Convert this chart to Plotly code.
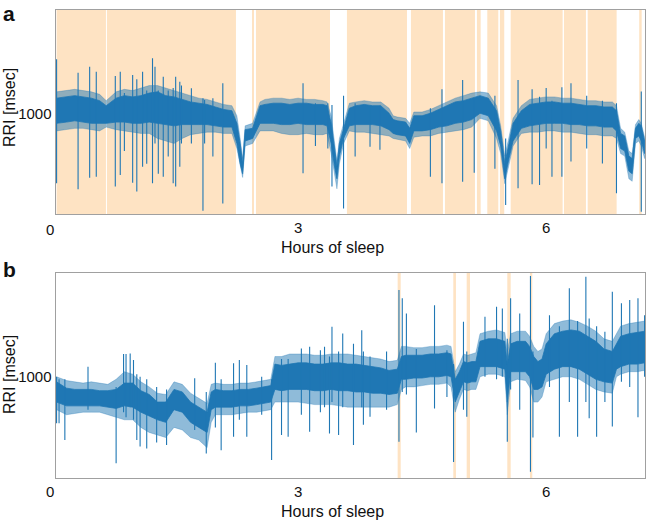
import plotly.graph_objects as go

# ---------------- Panel a data (hours, RRI msec) ----------------
a_t = [0.08, 0.2, 0.3, 0.4, 0.5, 0.6, 0.68, 0.8, 0.9, 1.0, 1.1, 1.2, 1.3, 1.4, 1.5, 1.6, 1.7, 1.8,
       1.9, 2.0, 2.1, 2.2, 2.26, 2.30, 2.33, 2.36, 2.45, 2.54, 2.6, 2.7, 2.8, 2.9, 3.0, 3.1, 3.2,
       3.3, 3.35, 3.40, 3.44, 3.47, 3.50, 3.55, 3.62, 3.7, 3.8, 3.9, 4.0, 4.1, 4.15, 4.2, 4.3,
       4.35, 4.4, 4.5, 4.6, 4.7, 4.8, 4.9, 5.0, 5.1, 5.2, 5.3, 5.4, 5.45, 5.5, 5.55, 5.6, 5.7,
       5.8, 5.9, 6.0, 6.1, 6.2, 6.3, 6.4, 6.5, 6.6, 6.7, 6.8, 6.85, 6.9, 6.95, 7.0, 7.04, 7.08,
       7.12, 7.15, 7.19]
a_core_hi = [1060, 1065, 1070, 1065, 1060, 1050, 1030, 1060, 1070, 1065, 1070, 1080, 1085, 1070,
             1065, 1055, 1045, 1040, 1035, 1025, 1015, 1010, 960, 880, 800, 935, 940, 1030, 1035,
             1040, 1040, 1035, 1040, 1040, 1035, 1035, 1030, 960, 850, 790, 880, 940, 1020, 1030,
             1035, 1030, 1030, 1000, 975, 970, 965, 940, 990, 990, 1000, 1015, 1030, 1045, 1050,
             1060, 1070, 1060, 1010, 930, 800, 880, 960, 1010, 1035, 1040, 1045, 1045, 1040, 1040,
             1035, 1030, 1030, 1025, 1025, 1010, 920, 910, 830, 820, 940, 960, 950, 890]
a_core_lo = [960, 965, 970, 965, 960, 960, 960, 965, 965, 960, 960, 965, 960, 955, 950, 955, 955,
             955, 955, 950, 945, 945, 880, 800, 760, 890, 900, 960, 960, 960, 955, 955, 960, 955,
             955, 955, 950, 880, 790, 740, 830, 900, 950, 955, 955, 955, 950, 935, 920, 915, 910,
             880, 930, 930, 935, 945, 950, 960, 965, 975, 1000, 990, 930, 870, 740, 820, 890, 940,
             950, 955, 960, 960, 960, 955, 955, 950, 950, 945, 945, 930, 860, 850, 770, 760, 900,
             910, 890, 840]
a_fr_hi = [1085, 1090, 1095, 1090, 1085, 1075, 1050, 1085, 1095, 1090, 1100, 1110, 1110, 1100,
           1090, 1080, 1070, 1060, 1055, 1045, 1035, 1030, 990, 900, 820, 950, 960, 1045, 1055,
           1060, 1060, 1055, 1060, 1055, 1055, 1050, 1045, 990, 880, 810, 900, 955, 1040, 1045,
           1050, 1045, 1045, 1020, 990, 985, 980, 960, 1005, 1005, 1015, 1030, 1045, 1060, 1070,
           1080, 1085, 1080, 1030, 950, 830, 900, 980, 1030, 1055, 1060, 1065, 1065, 1060, 1060,
           1055, 1050, 1050, 1045, 1045, 1030, 940, 925, 850, 840, 955, 975, 960, 905]
a_fr_lo = [930, 935, 940, 940, 935, 930, 945, 935, 930, 925, 920, 920, 900, 890, 880, 900, 915,
           920, 925, 925, 920, 920, 860, 790, 745, 870, 880, 930, 930, 930, 920, 915, 915, 920,
           915, 915, 920, 840, 760, 700, 800, 880, 930, 925, 925, 920, 915, 910, 900, 895, 890,
           860, 905, 910, 910, 920, 925, 930, 935, 945, 980, 970, 900, 840, 720, 800, 870, 920,
           925, 925, 930, 930, 925, 925, 920, 915, 915, 910, 910, 900, 840, 830, 740, 730, 880,
           890, 870, 820]
# isolated beats (hour, top, bottom)
a_sp_t = [0.08, 0.34, 0.48, 0.56, 0.79, 0.85, 0.90, 1.00, 1.05, 1.12, 1.17, 1.24, 1.27, 1.31,
          1.37, 1.43, 1.49, 1.52, 1.57, 1.59, 1.71, 1.85, 1.87, 1.97, 2.09, 3.06, 3.21, 3.36,
          3.41, 3.55, 3.69, 3.87, 3.99, 4.60, 4.74, 4.99, 5.13, 5.38, 5.51, 5.66, 5.83, 5.92,
          6.00, 6.07, 6.19, 6.30, 6.49, 6.68, 6.85, 7.15]
a_sp_hi = [1214, 1161, 1185, 1165, 1148, 1165, 1080, 1152, 1135, 1165, 1090, 1218, 1185, 1090,
           1145, 1090, 1100, 1145, 1125, 1110, 1099, 1060, 1053, 1060, 1119, 1119, 1040, 1040,
           1033, 1070, 1040, 1030, 1030, 1020, 1095, 1132, 1060, 1070, 900, 1132, 1095, 1066,
           1100, 1050, 1103, 1119, 1070, 1050, 1040, 1086]
a_sp_lo = [722, 698, 744, 748, 709, 755, 850, 724, 689, 788, 800, 722, 880, 760, 748, 828, 722,
           709, 788, 880, 880, 613, 880, 828, 642, 762, 870, 860, 709, 622, 828, 867, 855, 748,
           722, 728, 764, 780, 636, 702, 718, 715, 860, 748, 748, 808, 860, 801, 682, 609]
# sleep-stage shading intervals (hours)
a_band_start = [0.08, 0.689, 2.443, 2.491, 3.591, 4.365, 4.776, 5.163, 5.288, 5.441, 5.571, 6.215,
                6.502, 7.125]
a_band_end = [0.677, 2.249, 2.467, 3.386, 4.317, 4.752, 5.139, 5.208, 5.421, 5.493, 6.199, 6.481,
              6.852, 7.155]

# ---------------- Panel b data ----------------
b_t = [0.08, 0.2, 0.3, 0.4, 0.5, 0.6, 0.7, 0.8, 0.9, 1.0, 1.1, 1.2, 1.3, 1.4, 1.5, 1.6, 1.7, 1.8,
       1.9, 1.95, 2.0, 2.1, 2.2, 2.3, 2.4, 2.5, 2.6, 2.67, 2.72, 2.8, 2.9, 3.0, 3.1, 3.2, 3.3,
       3.4, 3.5, 3.6, 3.7, 3.8, 3.9, 4.0, 4.1, 4.2, 4.25, 4.3, 4.4, 4.5, 4.6, 4.7, 4.8, 4.85,
       4.9, 4.95, 5.0, 5.05, 5.1, 5.15, 5.2, 5.3, 5.4, 5.5, 5.53, 5.57, 5.65, 5.75, 5.8, 5.85,
       5.9, 5.95, 6.0, 6.1, 6.2, 6.3, 6.4, 6.5, 6.6, 6.7, 6.8, 6.85, 6.9, 7.0, 7.1, 7.19]
b_core_hi = [980, 955, 950, 950, 950, 945, 945, 950, 975, 975, 945, 930, 900, 900, 950, 940, 900,
             880, 860, 940, 950, 945, 945, 950, 950, 955, 960, 965, 1050, 1045, 1050, 1055, 1055,
             1050, 1050, 1055, 1055, 1050, 1050, 1045, 1040, 1035, 1025, 1030, 1080, 1085, 1085,
             1085, 1090, 1090, 1095, 1090, 990, 1020, 1060, 1055, 1060, 1060, 1140, 1150, 1150,
             1140, 1050, 1130, 1140, 1140, 1120, 1080, 1060, 1070, 1130, 1170, 1180, 1185, 1180,
             1160, 1140, 1110, 1100, 1130, 1160, 1170, 1175, 1180]
b_core_lo = [900, 885, 885, 885, 885, 885, 880, 875, 885, 880, 860, 845, 830, 820, 870, 860, 820,
             800, 780, 870, 880, 880, 880, 885, 885, 890, 895, 900, 950, 945, 950, 950, 950, 945,
             945, 950, 945, 945, 940, 940, 935, 935, 930, 935, 990, 990, 995, 995, 1000, 1000,
             1005, 1000, 900, 940, 980, 975, 980, 980, 1040, 1040, 1040, 1030, 900, 1020, 1020,
             1020, 1000, 950, 950, 960, 1010, 1030, 1040, 1040, 1030, 1010, 990, 980, 975, 1030,
             1040, 1050, 1050, 1055]
b_fr_hi = [1000, 985, 980, 975, 980, 975, 970, 990, 1020, 1010, 980, 960, 935, 930, 980, 970, 935,
           915, 895, 970, 975, 970, 970, 975, 975, 980, 985, 990, 1080, 1080, 1090, 1090, 1090,
           1085, 1085, 1090, 1090, 1090, 1085, 1080, 1075, 1070, 1060, 1065, 1120, 1120, 1115,
           1115, 1120, 1120, 1125, 1120, 1020, 1050, 1090, 1085, 1090, 1095, 1170, 1180, 1185,
           1175, 1100, 1170, 1180, 1180, 1160, 1120, 1100, 1110, 1170, 1210, 1220, 1225, 1215,
           1200, 1180, 1150, 1140, 1170, 1200, 1210, 1215, 1220]
b_fr_lo = [870, 850, 855, 860, 860, 860, 850, 840, 830, 830, 800, 780, 770, 760, 800, 790, 760,
           750, 720, 820, 850, 850, 850, 855, 860, 860, 865, 870, 900, 900, 900, 900, 895, 890,
           890, 890, 885, 880, 880, 880, 880, 880, 880, 890, 950, 960, 960, 965, 970, 970, 975,
           960, 860, 910, 950, 945, 950, 950, 1000, 1010, 1010, 1000, 850, 980, 990, 985, 960,
           900, 900, 920, 980, 990, 1000, 1000, 990, 970, 950, 940, 935, 1000, 1010, 1020, 1020,
           1025]
b_sp_t = [0.08, 0.11, 0.18, 0.46, 0.80, 0.89, 0.92, 0.97, 1.01, 1.05, 1.09, 1.17, 1.29, 1.41,
          1.75, 1.89, 2.00, 2.07, 2.22, 2.29, 2.38, 2.56, 2.68, 2.80, 2.88, 3.04, 3.14, 3.27,
          3.32, 3.38, 3.41, 3.49, 3.54, 3.67, 3.77, 3.79, 3.87, 4.07, 4.22, 4.26, 4.31, 4.43,
          4.65, 4.80, 4.88, 5.00, 5.04, 5.26, 5.40, 5.47, 5.53, 5.57, 5.68, 5.81, 5.84, 6.04,
          6.16, 6.28, 6.38, 6.48, 6.52, 6.61, 6.71, 6.80, 6.91, 7.01, 7.11, 7.19]
b_sp_hi = [1000, 990, 990, 1040, 960, 1090, 1090, 1092, 1066, 1010, 1000, 990, 960, 950, 994,
           940, 1055, 990, 1053, 1066, 1046, 1000, 990, 1070, 1070, 1112, 1119, 1105, 1119, 1080,
           1198, 1100, 1171, 1130, 1184, 1100, 1080, 1100, 1343, 1310, 1250, 1110, 1283, 1105,
           1050, 1217, 1100, 1237, 1277, 1270, 1150, 1310, 1250, 1398, 1100, 1243, 1200, 1350,
           1220, 1395, 1230, 1200, 1178, 1336, 1290, 1303, 1310, 1243]
b_sp_lo = [816, 816, 750, 870, 658, 860, 840, 880, 830, 750, 724, 717, 740, 730, 790, 697, 800,
           710, 763, 830, 763, 850, 671, 770, 763, 850, 783, 860, 880, 776, 900, 770, 880, 730,
           880, 810, 842, 870, 743, 940, 930, 780, 875, 920, 663, 870, 842, 1000, 990, 1000, 743,
           950, 870, 625, 760, 960, 763, 900, 763, 900, 836, 763, 900, 803, 980, 960, 840, 1000]
b_band_start = [4.204, 4.877, 5.039, 5.530, 5.804]
b_band_end = [4.241, 4.909, 5.079, 5.571, 5.832]

x_ticks = [3, 6]
y_ticks = [1000]
x_range = [0.067, 7.195]
y_range = [600, 1410]

BLUE = "#1f77b4"
SHADE = "#FEE3C3"
FONT = "Liberation Sans, Arial, Helvetica, sans-serif"
TXT = "#111111"

fig = go.Figure()


def add_panel(t, chi, clo, fhi, flo, st, shi, slo, xa, ya):
    fig.add_trace(go.Scatter(x=t + t[::-1], y=fhi + flo[::-1], fill="toself", mode="lines",
                             line=dict(width=0.6, color="rgba(31,119,180,0.5)"),
                             fillcolor="rgba(31,119,180,0.5)", xaxis=xa, yaxis=ya,
                             hoverinfo="skip", showlegend=False))
    fig.add_trace(go.Scatter(x=t + t[::-1], y=chi + clo[::-1], fill="toself", mode="lines",
                             line=dict(width=0.8, color=BLUE), fillcolor=BLUE,
                             xaxis=xa, yaxis=ya, hoverinfo="skip", showlegend=False))
    xs, ys = [], []
    for tt, hi, lo in zip(st, shi, slo):
        xs += [tt, tt, None]
        ys += [hi, lo, None]
    fig.add_trace(go.Scatter(x=xs, y=ys, mode="lines", line=dict(width=1.1, color=BLUE),
                             xaxis=xa, yaxis=ya, showlegend=False, hoverinfo="skip"))


add_panel(a_t, a_core_hi, a_core_lo, a_fr_hi, a_fr_lo, a_sp_t, a_sp_hi, a_sp_lo, "x", "y")
add_panel(b_t, b_core_hi, b_core_lo, b_fr_hi, b_fr_lo, b_sp_t, b_sp_hi, b_sp_lo, "x2", "y2")

shapes = []
for s, e in zip(a_band_start, a_band_end):
    shapes.append(dict(type="rect", xref="x", yref="y domain", x0=s, x1=e, y0=0, y1=1,
                       fillcolor=SHADE, line=dict(width=0), layer="below"))
for s, e in zip(b_band_start, b_band_end):
    shapes.append(dict(type="rect", xref="x2", yref="y2 domain", x0=s, x1=e, y0=0, y1=1,
                       fillcolor=SHADE, line=dict(width=0), layer="below"))

W, H = 648, 520
xdom = [55.5 / W, 645 / W]
ax_common = dict(showline=True, linecolor="#a0a0a0", linewidth=1, mirror=True, showgrid=False,
                 zeroline=False, ticks="", tickfont=dict(size=15, color=TXT), automargin=False)


def px_x(p):
    return p / W


def px_y(p):
    return (H - p) / H


def ann(text, x, y, size=15, angle=0, bold=False, xanchor="center", yanchor="middle"):
    return dict(text=("<b>%s</b>" % text) if bold else text, x=px_x(x), y=px_y(y), xref="paper",
                yref="paper", xanchor=xanchor, yanchor=yanchor, showarrow=False,
                textangle=angle, font=dict(size=size, color=TXT, family=FONT))


fig.update_layout(
    width=W, height=H, margin=dict(l=0, r=0, t=0, b=0),
    paper_bgcolor="white", plot_bgcolor="white", font=dict(family=FONT, color=TXT),
    shapes=shapes,
    xaxis=dict(domain=xdom, range=x_range, tickvals=x_ticks, anchor="y", **ax_common),
    yaxis=dict(domain=[px_y(214), px_y(10)], range=y_range, tickvals=y_ticks, anchor="x",
               **ax_common),
    xaxis2=dict(domain=xdom, range=x_range, tickvals=x_ticks, anchor="y2", **ax_common),
    yaxis2=dict(domain=[px_y(478), px_y(273)], range=y_range, tickvals=y_ticks, anchor="x2",
                **ax_common),
    annotations=[
        ann("0", 50, 229),
        ann("0", 50, 491),
        ann("Hours of sleep", 333, 248, size=16),
        ann("Hours of sleep", 333, 511, size=16),
        ann("RRI [msec]", 9, 108, size=16, angle=-90),
        ann("RRI [msec]", 9, 375, size=16, angle=-90),
        ann("a", 1, 0, size=21, bold=True, xanchor="left", yanchor="top"),
        ann("b", 1, 270, size=21, bold=True, xanchor="left"),
    ],
)

fig.write_html("out.html", config={"displayModeBar": False},
               post_script="document.body.style.margin='0';document.body.style.overflow='hidden';")
